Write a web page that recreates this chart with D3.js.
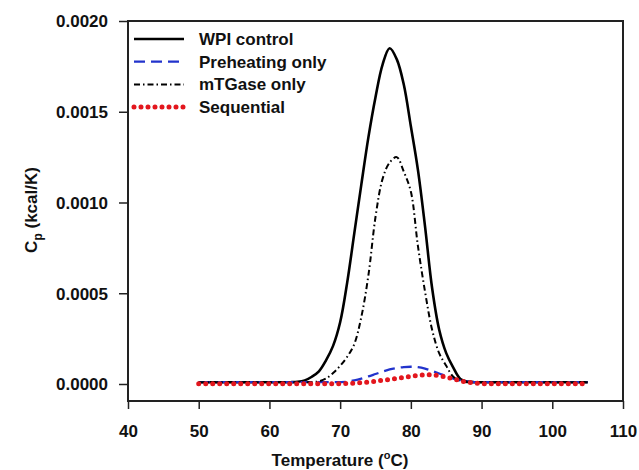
<!DOCTYPE html>
<html><head><meta charset="utf-8">
<script src="https://cdn.jsdelivr.net/npm/d3@7"></script>
<style>body{margin:0;background:#fff}svg text{font-family:"Liberation Sans",Arial,sans-serif;font-weight:bold;fill:#111}</style>
</head><body><svg id="c" width="639" height="470"></svg>
<script>
const temps = d3.range(50, 106);
// values at integer temperatures 50..105 (kcal/K)
const wpiControl = [
 0.00001,0.00001,0.00001,0.00001,0.00001,0.00001,0.00001,0.00001,0.00001,0.00001, // 50-59
 0.00001,0.00001,0.00001,0.00001,0.000012,0.00002,0.00004,0.00007,0.00013,0.00021, // 60-69
 0.00034,0.00056,0.00083,0.00110,0.00136,0.00158,0.00176,0.00185,0.00179,0.00165, // 70-79
 0.00142,0.00118,0.00087,0.00053,0.00030,0.00017,0.00009,0.000028,0.000013,0.00001, // 80-89
 0.00001,0.00001,0.00001,0.00001,0.00001,0.00001,0.00001,0.00001,0.00001,0.00001, // 90-99
 0.00001,0.00001,0.00001,0.00001,0.00001,0.00001 // 100-105
];
const preheating = [
 0.00001,0.00001,0.00001,0.00001,0.00001,0.00001,0.00001,0.00001,0.00001,0.00001,
 0.00001,0.00001,0.00001,0.00001,0.00001,0.00001,0.00001,0.00001,0.00001,0.00001,
 0.00001,0.000012,0.00002,0.00003,0.000042,0.000055,0.000068,0.00008,0.000088,0.000093,
 0.000095,0.000093,0.000085,0.000072,0.000058,0.000043,0.00003,0.00002,0.000013,0.00001,
 0.00001,0.00001,0.00001,0.00001,0.00001,0.00001,0.00001,0.00001,0.00001,0.00001,
 0.00001,0.00001,0.00001,0.00001,0.00001,0.00001
];
const mtgase = [
 0.00001,0.00001,0.00001,0.00001,0.00001,0.00001,0.00001,0.00001,0.00001,0.00001,
 0.00001,0.00001,0.00001,0.00001,0.00001,0.00001,0.00001,0.000015,0.00003,0.00006,
 0.0001,0.00015,0.00022,0.00037,0.00060,0.00092,0.00113,0.00122,0.00125,0.00117,
 0.00106,0.00076,0.00051,0.00030,0.00017,0.0001,0.00004,0.000017,0.00001,0.00001,
 0.00001,0.00001,0.00001,0.00001,0.00001,0.00001,0.00001,0.00001,0.00001,0.00001,
 0.00001,0.00001,0.00001,0.00001,0.00001,0.00001
];
const sequential = [
 0.000002,0.000002,0.000002,0.000002,0.000002,0.000002,0.000002,0.000002,0.000002,0.000002,
 0.000002,0.000002,0.000002,0.000002,0.000002,0.000002,0.000002,0.000002,0.000002,0.000002,
 0.000002,0.000003,0.000005,0.000008,0.000011,0.000015,0.00002,0.000025,0.00003,0.000036,
 0.000042,0.000047,0.00005,0.00005,0.000046,0.000038,0.000028,0.000018,0.00001,0.000005,
 0.000002,0.000002,0.000002,0.000002,0.000002,0.000002,0.000002,0.000002,0.000002,0.000002,
 0.000002,0.000002,0.000002,0.000002,0.000002,0.000002
];
const seriesNames = ["WPI control","Preheating only","mTGase only","Sequential"];
const xTicks = [40,50,60,70,80,90,100,110];
const yTicks = [0,0.0005,0.0010,0.0015,0.0020];

const svg = d3.select("#c");
const L=128,R=623,T=21,B=401;
const x = d3.scaleLinear().domain([40,110]).range([L,R]);
const y = d3.scaleLinear().domain([-0.0000937,0.002]).range([B,T]);

const styles = [
 {data:wpiControl, color:"#000", w:2.6, dash:null, cap:"butt"},
 {data:preheating, color:"#2233cc", w:2.3, dash:"11,6", cap:"butt"},
 {data:mtgase, color:"#000", w:2, dash:"6,3,1.5,3", cap:"butt"},
 {data:sequential, color:"#e3161d", w:5, dash:"0,7", cap:"round"}
];
const line = d3.line().x((d,i)=>x(temps[i])).y(d=>y(d)).curve(d3.curveCatmullRom);
styles.forEach(s=>{
  svg.append("path").attr("d",line(s.data)).attr("fill","none")
    .attr("stroke",s.color).attr("stroke-width",s.w)
    .attr("stroke-dasharray",s.dash).attr("stroke-linecap",s.cap);
});

// frame
svg.append("rect").attr("x",L).attr("y",T).attr("width",R-L).attr("height",B-T)
  .attr("fill","none").attr("stroke","#222").attr("stroke-width",2);

// axes
const xa = svg.append("g").attr("transform",`translate(0,${B})`)
  .call(d3.axisBottom(x).tickValues(xTicks).tickSize(8).tickFormat(d3.format("d")));
const ya = svg.append("g").attr("transform",`translate(${L},0)`)
  .call(d3.axisLeft(y).tickValues(yTicks).tickSize(9).tickFormat(d3.format(".4f")));
[xa,ya].forEach(g=>{
  g.select(".domain").remove();
  g.selectAll("line").attr("stroke","#222").attr("stroke-width",1.5);
  g.selectAll("text").attr("font-size",17).attr("fill","#111")
   .style("font-family","Liberation Sans, Arial, sans-serif").style("font-weight","bold");
});
xa.selectAll("text").attr("dy",null).attr("y",36);
ya.selectAll("text").attr("x",-20).attr("dy","0.35em");

// axis titles
const xt = svg.append("text").attr("x",340).attr("y",466).attr("text-anchor","middle").attr("font-size",17);
xt.append("tspan").text("Temperature (");
xt.append("tspan").text("o").attr("font-size",11).attr("dy",-7);
xt.append("tspan").text("C)").attr("dy",7);

const yt = svg.append("text").attr("transform","translate(37,210) rotate(-90)").attr("text-anchor","middle").attr("font-size",17);
yt.append("tspan").text("C");
yt.append("tspan").text("p").attr("font-size",12).attr("dy",5);
yt.append("tspan").text(" (kcal/K)").attr("dy",-5);

// legend
const ly0 = 39, ldy = 22.7;
styles.forEach((s,i)=>{
  const yy = ly0 + i*ldy;
  svg.append("line").attr("x1",134).attr("x2",184).attr("y1",yy).attr("y2",yy)
    .attr("stroke",s.color).attr("stroke-width",s.w).attr("stroke-dasharray",s.dash)
    .attr("stroke-linecap",s.cap);
  svg.append("text").attr("x",199).attr("y",yy+6).attr("font-size",17).text(seriesNames[i]);
});
</script></body></html>
